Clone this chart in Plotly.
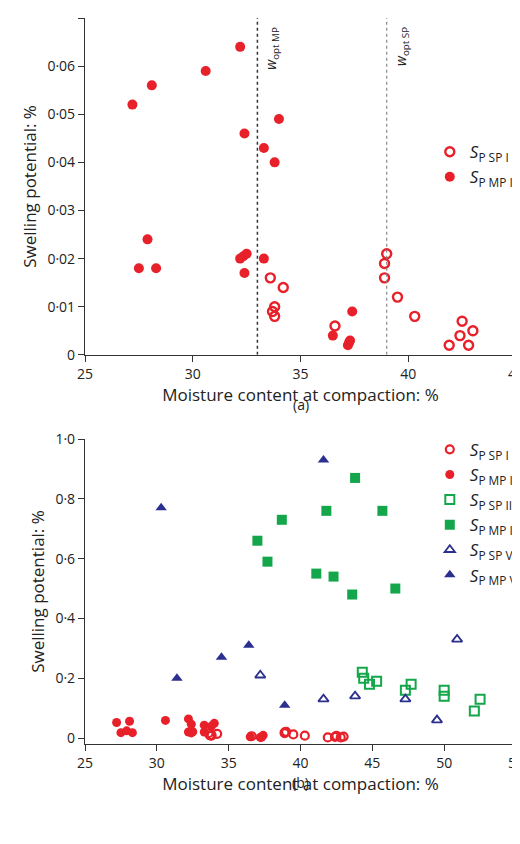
import plotly.graph_objects as go

# panel (a) / shared series I
mp1_x = [27.2, 28.1, 30.6, 32.2, 32.4, 34.0, 33.3, 33.8, 27.5, 27.9, 28.3, 32.2, 32.35, 32.5, 32.4, 33.3, 36.5, 37.4, 37.2, 37.25, 37.3]
mp1_y = [0.052, 0.056, 0.059, 0.064, 0.046, 0.049, 0.043, 0.040, 0.018, 0.024, 0.018, 0.020, 0.0205, 0.021, 0.017, 0.020, 0.004, 0.009, 0.002, 0.0025, 0.003]
sp1_x = [33.6, 34.2, 33.8, 33.7, 33.8, 36.6, 38.9, 39.0, 38.9, 39.5, 40.3, 41.9, 42.4, 42.5, 43.0, 42.8]
sp1_y = [0.016, 0.014, 0.010, 0.009, 0.008, 0.006, 0.019, 0.021, 0.016, 0.012, 0.008, 0.002, 0.004, 0.007, 0.005, 0.002]

# panel (b)
mp3_x = [43.8, 41.8, 45.7, 38.7, 37.0, 37.7, 41.1, 42.3, 43.6, 46.6]
mp3_y = [0.87, 0.76, 0.76, 0.73, 0.66, 0.59, 0.55, 0.54, 0.48, 0.50]
sp3_x = [44.3, 44.4, 44.8, 45.3, 47.3, 47.7, 50.0, 50.0, 52.5, 52.1]
sp3_y = [0.22, 0.20, 0.18, 0.19, 0.16, 0.18, 0.16, 0.14, 0.13, 0.09]
mp5_x = [30.3, 41.6, 31.4, 34.5, 36.4, 38.9]
mp5_y = [0.77, 0.93, 0.20, 0.27, 0.31, 0.11]
sp5_x = [37.2, 41.6, 43.8, 47.3, 49.5, 50.9]
sp5_y = [0.21, 0.13, 0.14, 0.13, 0.06, 0.33]

RED = "#e8202a"
GREEN = "#13a64a"
BLUE = "#2b2f8f"
FONT = "Open Sans"

def lab(s):
    return "<i>S</i><sub>P " + s + "</sub>"

fig = go.Figure()

fig.add_trace(go.Scatter(x=sp1_x, y=sp1_y, mode="markers", name=lab("SP I"),
                         marker=dict(symbol="circle-open", color=RED, size=9, line=dict(width=2.4)),
                         xaxis="x", yaxis="y", legend="legend"))
fig.add_trace(go.Scatter(x=mp1_x, y=mp1_y, mode="markers", name=lab("MP I"),
                         marker=dict(symbol="circle", color=RED, size=10),
                         xaxis="x", yaxis="y", legend="legend"))

fig.add_trace(go.Scatter(x=sp1_x, y=sp1_y, mode="markers", name=lab("SP I"),
                         marker=dict(symbol="circle-open", color=RED, size=8, line=dict(width=2.2)),
                         xaxis="x2", yaxis="y2", legend="legend2"))
fig.add_trace(go.Scatter(x=mp1_x, y=mp1_y, mode="markers", name=lab("MP I"),
                         marker=dict(symbol="circle", color=RED, size=9),
                         xaxis="x2", yaxis="y2", legend="legend2"))
fig.add_trace(go.Scatter(x=sp3_x, y=sp3_y, mode="markers", name=lab("SP III"),
                         marker=dict(symbol="square-open", color=GREEN, size=9, line=dict(width=2)),
                         xaxis="x2", yaxis="y2", legend="legend2"))
fig.add_trace(go.Scatter(x=mp3_x, y=mp3_y, mode="markers", name=lab("MP III"),
                         marker=dict(symbol="square", color=GREEN, size=10),
                         xaxis="x2", yaxis="y2", legend="legend2"))
fig.add_trace(go.Scatter(x=sp5_x, y=sp5_y, mode="markers", name=lab("SP V"),
                         marker=dict(symbol="triangle-up-open", color=BLUE, size=9, line=dict(width=1.8)),
                         xaxis="x2", yaxis="y2", legend="legend2"))
fig.add_trace(go.Scatter(x=mp5_x, y=mp5_y, mode="markers", name=lab("MP V"),
                         marker=dict(symbol="triangle-up", color=BLUE, size=10),
                         xaxis="x2", yaxis="y2", legend="legend2"))

fig.add_shape(type="line", x0=33, x1=33, y0=0, y1=0.07, xref="x", yref="y",
              line=dict(color="#333", width=1.5, dash="dot"))
fig.add_shape(type="line", x0=39, x1=39, y0=0, y1=0.07, xref="x", yref="y",
              line=dict(color="#888", width=1.2, dash="dot"))

ax = dict(showgrid=False, zeroline=False, showline=True, linecolor="#333", linewidth=1.2,
          ticks="outside", ticklen=6, tickcolor="#333", tickfont=dict(size=14, color="#222"))

ytop = [0, 0.01, 0.02, 0.03, 0.04, 0.05, 0.06, 0.07]
ybot = [0, 0.2, 0.4, 0.6, 0.8, 1.0]

fig.update_layout(
    width=520, height=844, plot_bgcolor="white", paper_bgcolor="white",
    font=dict(family=FONT, size=14, color="#222"),
    margin=dict(l=77, r=12, t=10, b=108, autoexpand=False),
    showlegend=True,
    xaxis=dict(ax, domain=[0, 1], range=[25, 45], dtick=5, anchor="y", automargin=False,
               title=dict(text="Moisture content at compaction: %", standoff=2)),
    yaxis=dict(ax, domain=[0.536, 1], range=[0, 0.07], anchor="x", automargin=False,
               tickvals=ytop, ticktext=["0"] + ["0·%02d" % int(round(v * 100)) for v in ytop[1:]],
               title=dict(text="Swelling potential: %", standoff=6)),
    xaxis2=dict(ax, domain=[0, 1], range=[25, 55], dtick=5, anchor="y2", automargin=False,
                title=dict(text="Moisture content at compaction: %", standoff=2)),
    yaxis2=dict(ax, domain=[0, 0.42], range=[-0.02, 1.0], anchor="x2", automargin=False,
                tickvals=ybot, ticktext=["0", "0·2", "0·4", "0·6", "0·8", "1·0"],
                title=dict(text="Swelling potential: %", standoff=6)),
    legend=dict(x=0.8, y=0.84, xanchor="left", yanchor="top", font=dict(size=17),
                bgcolor="rgba(0,0,0,0)", itemwidth=30),
    legend2=dict(x=0.8, y=0.43, xanchor="left", yanchor="top", font=dict(size=17),
                 bgcolor="rgba(0,0,0,0)", itemwidth=30, tracegroupgap=0),
    annotations=[
        dict(text="<i>w</i><sub>opt MP</sub>", x=33.1, y=0.99, xref="x", yref="paper",
             textangle=-90, showarrow=False, xanchor="left", yanchor="top", font=dict(size=14)),
        dict(text="<i>w</i><sub>opt SP</sub>", x=39.1, y=0.99, xref="x", yref="paper",
             textangle=-90, showarrow=False, xanchor="left", yanchor="top", font=dict(size=14)),
        dict(text="(a)", x=0.5, y=0.536, xref="paper", yref="paper", yshift=-50,
             showarrow=False, font=dict(size=14)),
        dict(text="(b)", x=0.5, y=0, xref="paper", yref="paper", yshift=-50,
             showarrow=False, font=dict(size=14)),
    ],
)

fig.write_html("out.html")
